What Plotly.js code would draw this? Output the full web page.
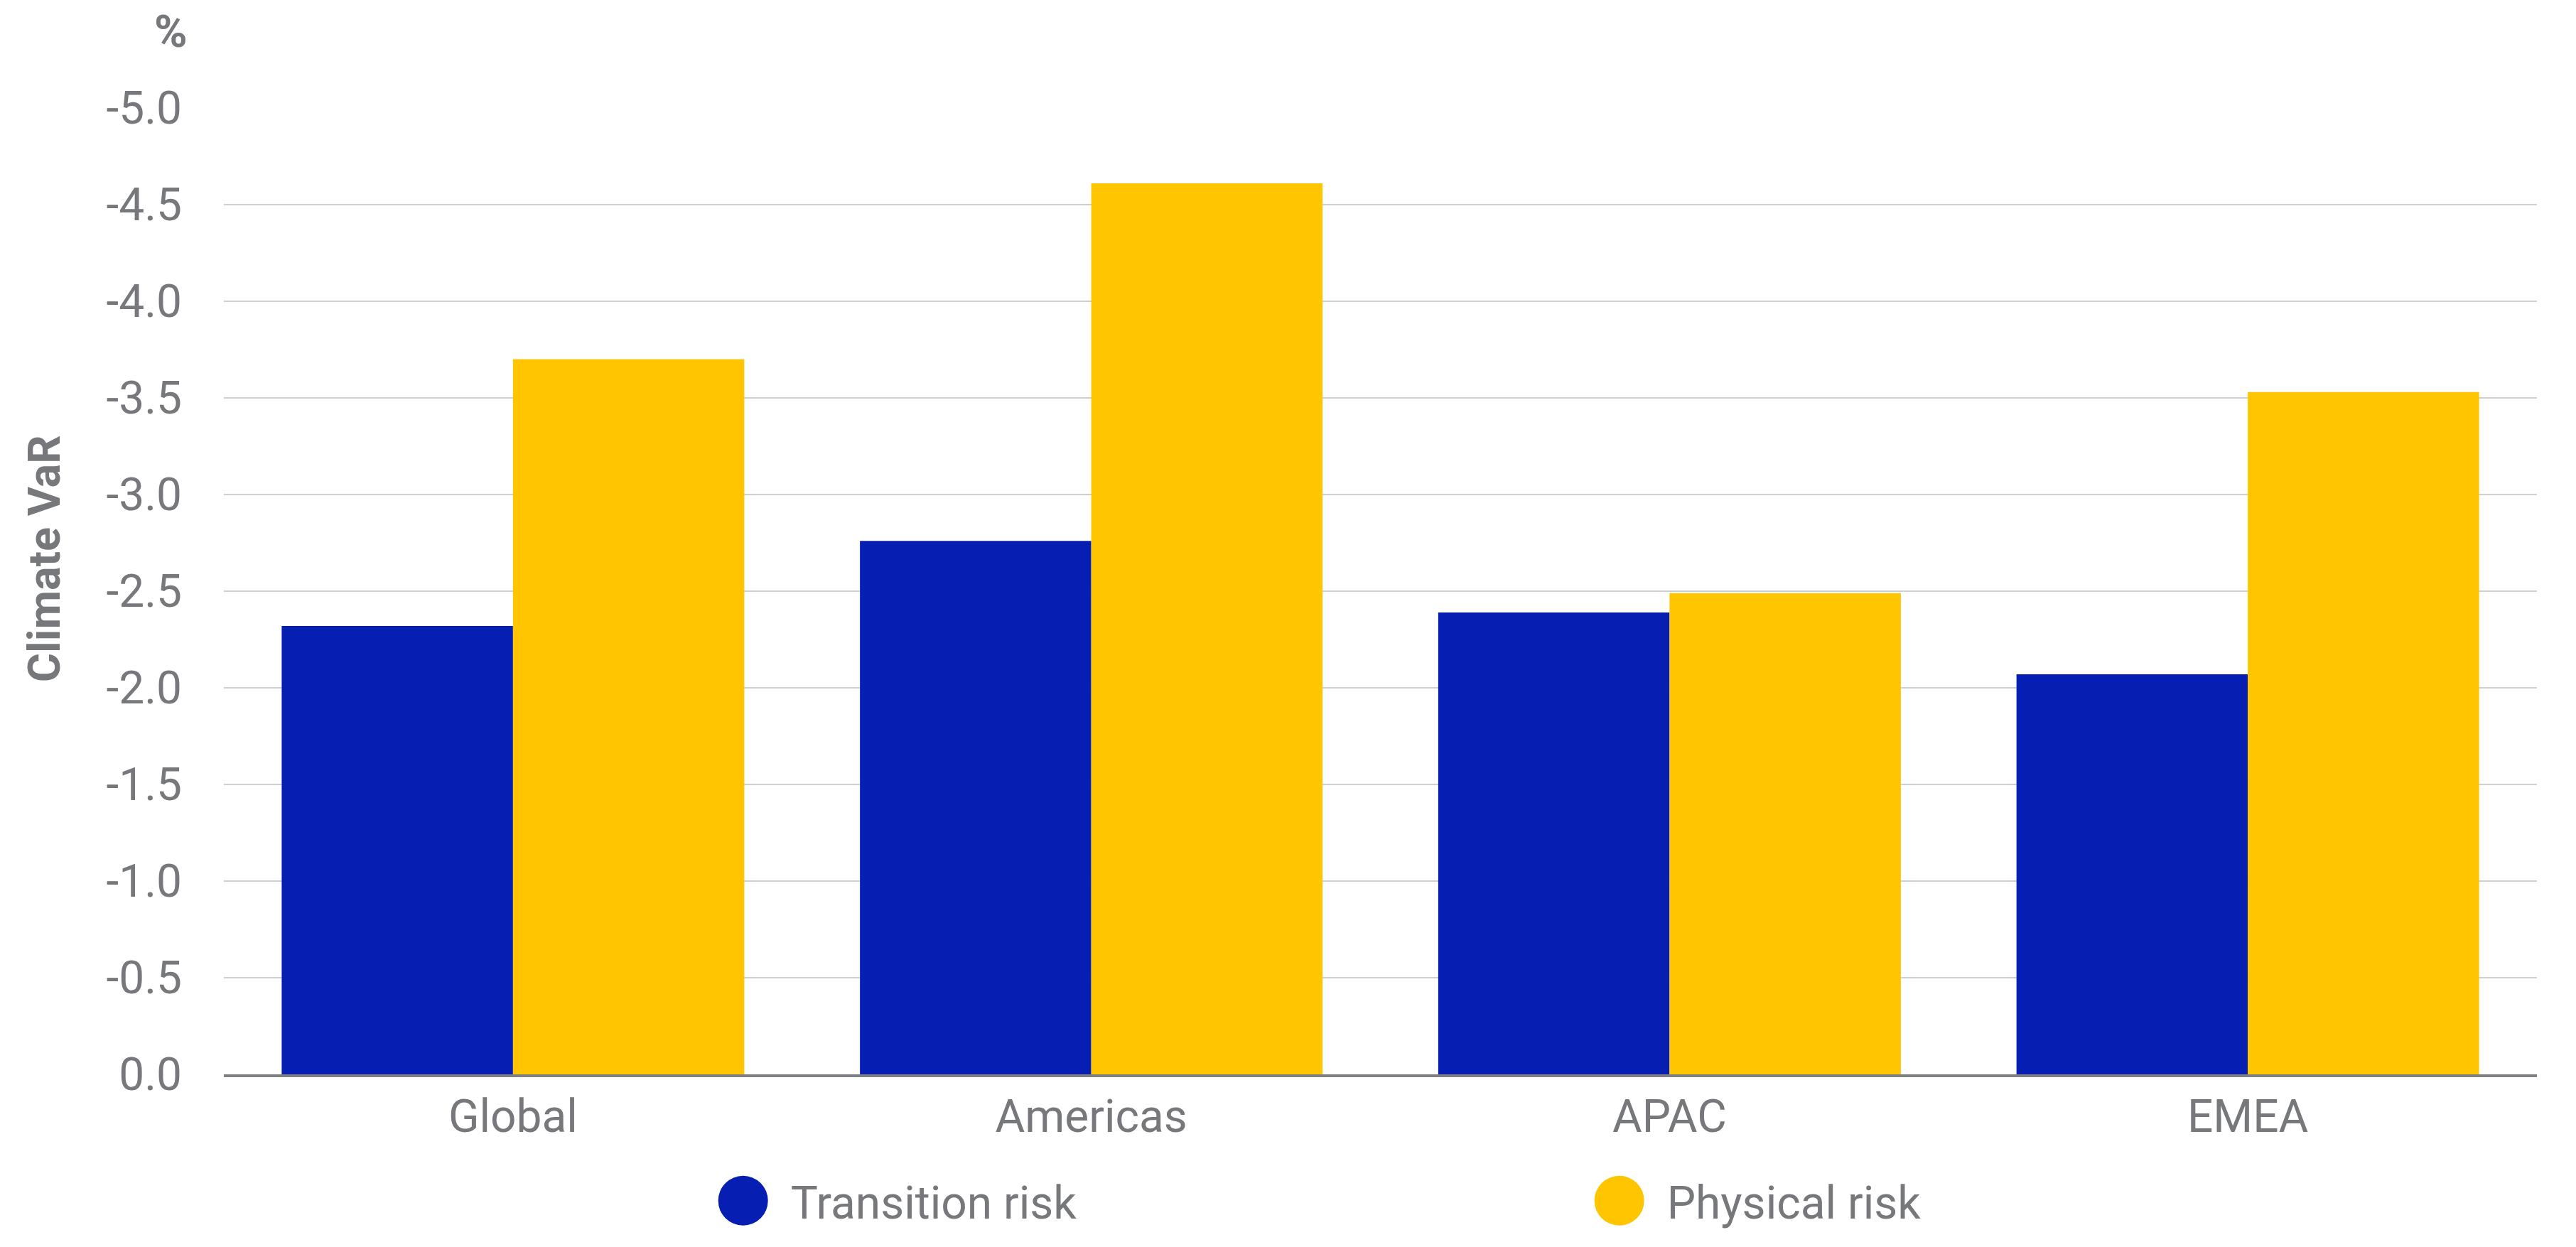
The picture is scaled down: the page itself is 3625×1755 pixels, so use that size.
<!DOCTYPE html>
<html>
<head>
<meta charset="utf-8">
<script src="https://cdn.plot.ly/plotly-3.0.1.min.js"></script>
<style>
  html, body { margin: 0; padding: 0; background: #ffffff; }
  #chart { width: 3625px; height: 1755px; }
</style>
</head>
<body>
<div id="chart"></div>
<script>
// ---- Data (Climate VaR, %) ----
var categories = ["Global", "Americas", "APAC", "EMEA"];
var transitionRisk = [-2.32, -2.76, -2.39, -2.07];
var physicalRisk = [-3.70, -4.61, -2.49, -3.53];
var seriesNames = ["Transition risk", "Physical risk"];
var yTickValues = [0, -0.5, -1.0, -1.5, -2.0, -2.5, -3.0, -3.5, -4.0, -4.5, -5.0];
var yTickLabels = ["0.0", "-0.5", "-1.0", "-1.5", "-2.0", "-2.5", "-3.0", "-3.5", "-4.0", "-4.5", "-5.0"];
var yAxisTitle = "Climate VaR";
var unitLabel = "%";

var BLUE = "#061eb2";
var YELLOW = "#fec500";
var GREY = "#76787b";
var FONT = "Roboto, 'Open Sans', sans-serif";

var traces = [
  {
    type: "bar",
    name: seriesNames[0],
    x: categories,
    y: transitionRisk,
    marker: { color: BLUE, line: { width: 0 } },
    hoverinfo: "x+y+name"
  },
  {
    type: "bar",
    name: seriesNames[1],
    x: categories,
    y: physicalRisk,
    marker: { color: YELLOW, line: { width: 0 } },
    hoverinfo: "x+y+name"
  }
];

var layout = {
  width: 3625,
  height: 1755,
  paper_bgcolor: "#ffffff",
  plot_bgcolor: "#ffffff",
  font: { family: FONT, color: GREY, size: 64 },
  margin: { l: 315, r: 55, t: 152, b: 243, pad: 0 },
  barmode: "group",
  bargap: 0.2,
  bargroupgap: 0,
  showlegend: true,
  legend: {
    orientation: "h",
    x: 0.2039,
    xanchor: "left",
    y: -0.131,
    yanchor: "middle",
    font: { family: FONT, size: 64, color: GREY },
    itemwidth: 124,
    entrywidth: 1094,
    entrywidthmode: "pixels",
    bgcolor: "rgba(0,0,0,0)",
    borderwidth: 0,
    traceorder: "normal"
  },
  xaxis: {
    type: "category",
    showgrid: false,
    showline: true,
    linecolor: "#7f8083",
    linewidth: 4,
    ticks: "",
    tickfont: { family: FONT, size: 64, color: GREY },
    zeroline: false,
    fixedrange: true
  },
  yaxis: {
    range: [0, -5],
    tickmode: "array",
    tickvals: yTickValues,
    ticktext: yTickLabels,
    showgrid: true,
    gridcolor: "#cfcfcf",
    gridwidth: 2,
    zeroline: false,
    showline: false,
    ticks: "",
    ticklabelstandoff: 58,
    tickfont: { family: FONT, size: 64, color: GREY },
    fixedrange: true
  },
  annotations: [
    {
      text: "<b>" + yAxisTitle + "</b>",
      xref: "paper",
      yref: "paper",
      x: -0.0775,
      y: 0.5335,
      xanchor: "center",
      yanchor: "middle",
      textangle: -90,
      showarrow: false,
      font: { family: FONT, size: 63, color: GREY }
    },
    {
      text: "<b>" + unitLabel + "</b>",
      xref: "paper",
      yref: "paper",
      x: -0.0230,
      y: 1.0787,
      xanchor: "center",
      yanchor: "middle",
      showarrow: false,
      font: { family: FONT, size: 63, color: GREY }
    }
  ]
};

Plotly.newPlot("chart", traces, layout, { displayModeBar: false, staticPlot: true }).then(function () {
  // Render legend symbols as large filled circles, as in the reference
  var r = 35;
  var circle = "M" + r + ",0A" + r + "," + r + " 0 1,1 0,-" + r + "A" + r + "," + r + " 0 0,1 " + r + ",0Z";
  document.querySelectorAll("#chart .legend .legendpoints path").forEach(function (p) {
    p.setAttribute("d", circle);
  });
});
</script>
</body>
</html>
